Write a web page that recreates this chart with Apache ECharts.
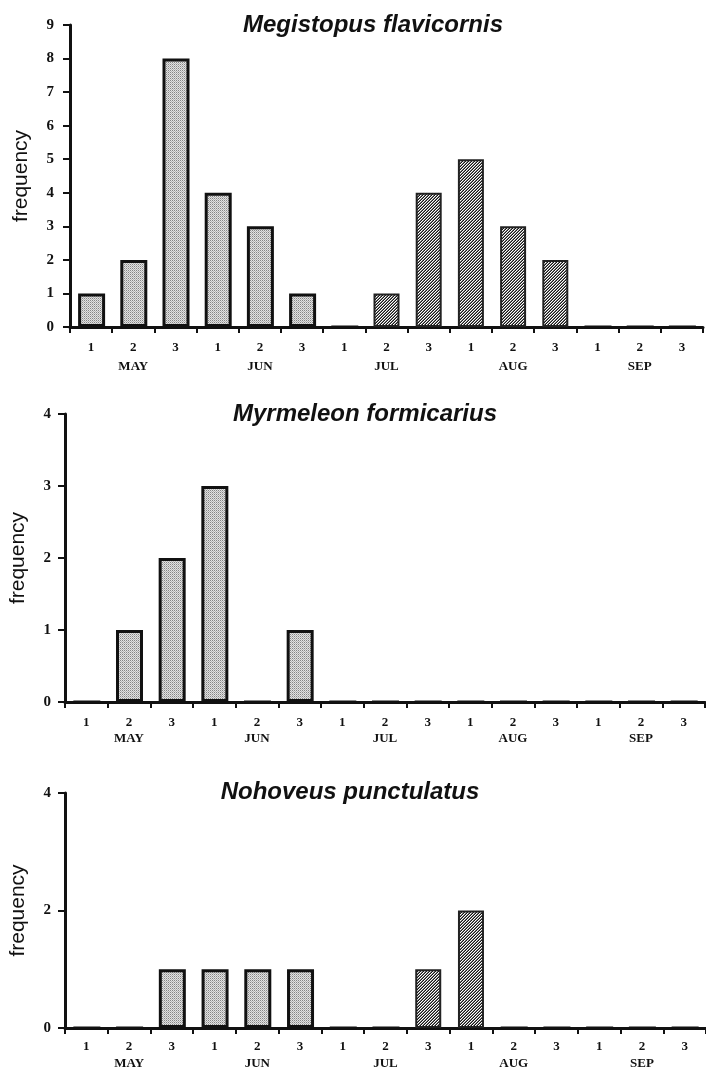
<!DOCTYPE html>
<html>
<head>
<meta charset="utf-8">
<script src="https://cdn.jsdelivr.net/npm/echarts@6/dist/echarts.min.js"></script>
<style>
  html, body { margin: 0; padding: 0; background: #fff; }
  #chart { width: 706px; height: 1073px; }
</style>
</head>
<body>
<div id="chart"></div>
<script>
// Ten-day periods (1st, 2nd, 3rd decade) of each month
const periods = ['1','2','3','1','2','3','1','2','3','1','2','3','1','2','3'];
const months = ['MAY', 'JUN', 'JUL', 'AUG', 'SEP'];

// Catch frequencies per ten-day period; first and second generation
const megistopusFirst  = [1, 2, 8, 4, 3, 1, 0, null, null, null, null, null, 0, 0, 0];
const megistopusSecond = [null, null, null, null, null, null, null, 1, 4, 5, 3, 2, null, null, null];
const myrmeleonFirst   = [0, 1, 2, 3, 0, 1, 0, 0, 0, 0, 0, 0, 0, 0, 0];
const myrmeleonSecond  = [null, null, null, null, null, null, null, null, null, null, null, null, null, null, null];
const nohoveusFirst    = [0, 0, 1, 1, 1, 1, 0, 0, null, null, 0, 0, 0, 0, 0];
const nohoveusSecond   = [null, null, null, null, null, null, null, null, 1, 2, null, null, null, null, null];

const titles = ['Megistopus flavicornis', 'Myrmeleon formicarius', 'Nohoveus punctulatus'];
const yMax = [9, 4, 4];
const yStep = [1, 1, 2];

// Fill textures: fine stipple and diagonal hatching
function stipple() {
  const c = document.createElement('canvas');
  c.width = 2; c.height = 2;
  const g = c.getContext('2d');
  g.fillStyle = '#e2e2e2'; g.fillRect(0, 0, 2, 2);
  g.fillStyle = '#858585'; g.fillRect(0, 0, 1, 1);
  g.fillStyle = '#b4b4b4'; g.fillRect(1, 1, 1, 1);
  return c;
}
function hatch() {
  const c = document.createElement('canvas');
  c.width = 3; c.height = 3;
  const g = c.getContext('2d');
  g.fillStyle = '#ffffff'; g.fillRect(0, 0, 3, 3);
  g.fillStyle = '#151515';
  g.fillRect(0, 2, 1, 1); g.fillRect(1, 1, 1, 1); g.fillRect(2, 0, 1, 1);
  g.fillStyle = '#7a7a7a';
  g.fillRect(0, 1, 1, 1); g.fillRect(1, 0, 1, 1); g.fillRect(2, 2, 1, 1);
  return c;
}
const stippleFill = { image: stipple(), repeat: 'repeat' };
const hatchFill = { image: hatch(), repeat: 'repeat' };

const serif = 'Liberation Serif';
const sans = 'Liberation Sans';

const grids = [
  { left: 70, right: 3, top: 25, height: 302 },
  { left: 62, right: 1, top: 414, height: 288 },
  { left: 62, right: 0, top: 793, height: 235 }
];
const catMargin = [14, 14, 12];
const monthMargin = [33, 30, 29];
const yLabelMargin = [16, 14, 14];
const nameGap = [38, 36, 36];
const titlePos = [[373, 25], [365, 414], [350, 792]];

const firsts = [megistopusFirst, myrmeleonFirst, nohoveusFirst];
const seconds = [megistopusSecond, myrmeleonSecond, nohoveusSecond];

const xAxis = [], yAxis = [], series = [], graphic = [];
grids.forEach((gr, i) => {
  xAxis.push({
    type: 'category', gridIndex: i, data: periods, position: 'bottom',
    axisLine: { lineStyle: { color: '#111', width: 3 } },
    axisTick: { show: true, length: 6, lineStyle: { color: '#111', width: 2 } },
    axisLabel: { margin: catMargin[i], fontFamily: serif, fontWeight: 'bold', fontSize: 13, color: '#111' }
  });
  xAxis.push({
    type: 'category', gridIndex: i, data: months, position: 'bottom',
    axisLine: { show: false }, axisTick: { show: false },
    axisLabel: { margin: monthMargin[i], fontFamily: serif, fontWeight: 'bold', fontSize: 13, color: '#111' }
  });
  yAxis.push({
    type: 'value', gridIndex: i, min: 0, max: yMax[i], interval: yStep[i],
    name: 'frequency', nameLocation: 'middle', nameGap: nameGap[i], nameRotate: 90,
    nameTextStyle: { fontFamily: sans, fontSize: 21, color: '#111' },
    splitLine: { show: false },
    axisLine: { show: true, lineStyle: { color: '#111', width: 3 } },
    axisTick: { show: true, length: 7, lineStyle: { color: '#111', width: 2 } },
    axisLabel: { margin: yLabelMargin[i], fontFamily: serif, fontWeight: 'bold', fontSize: 15, color: '#111' }
  });
  series.push({
    type: 'bar', xAxisIndex: i * 2, yAxisIndex: i, data: firsts[i],
    barWidth: 27, barGap: '-100%', silent: true,
    itemStyle: { color: stippleFill, borderColor: '#111', borderWidth: 3 }
  });
  series.push({
    type: 'bar', xAxisIndex: i * 2, yAxisIndex: i, data: seconds[i],
    barWidth: 26, barGap: '-100%', silent: true,
    itemStyle: { color: hatchFill, borderColor: '#222', borderWidth: 2 }
  });
  graphic.push({
    type: 'text', x: titlePos[i][0], y: titlePos[i][1],
    style: {
      text: titles[i], align: 'center', verticalAlign: 'middle',
      font: 'italic bold 24px "Liberation Sans"', fill: '#111'
    }
  });
});

const chart = echarts.init(document.getElementById('chart'), null, { renderer: 'canvas' });
chart.setOption({
  animation: false,
  backgroundColor: '#fff',
  grid: grids,
  xAxis: xAxis,
  yAxis: yAxis,
  series: series,
  graphic: graphic
});
</script>
</body>
</html>
